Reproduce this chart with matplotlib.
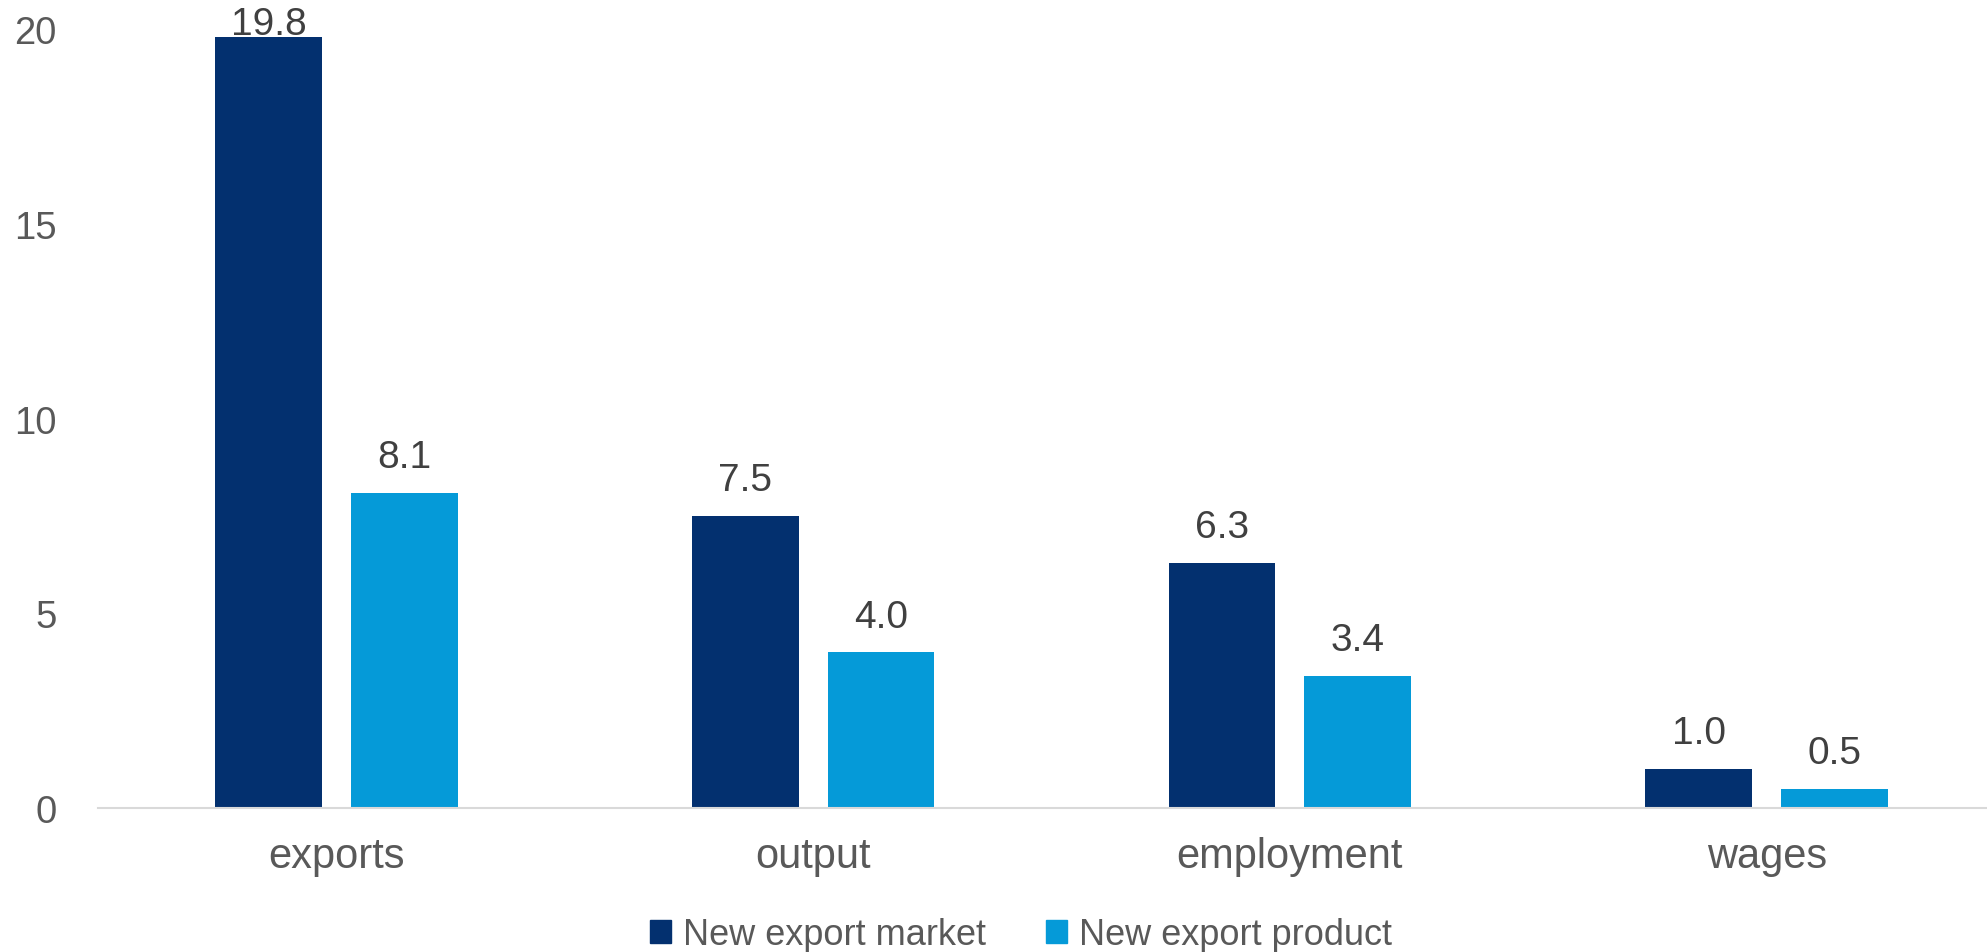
import matplotlib
matplotlib.use("Agg")
import matplotlib.pyplot as plt
from matplotlib.patches import Patch
import numpy as np

plt.rcParams["font.family"] = ["Liberation Sans", "DejaVu Sans"]

# Datos
categorias = ["exports", "output", "employment", "wages"]
nuevo_mercado = [19.8, 7.5, 6.3, 1.0]
nuevo_producto = [8.1, 4.0, 3.4, 0.5]
series = ["New export market", "New export product"]

COLORS = {"market": "#03306F", "product": "#059AD8"}

fig = plt.figure(figsize=(19.87, 9.53), dpi=100)
ax = fig.add_axes([0.0493, 0.151, 0.9507, 0.8175])

x = np.arange(len(categorias))
w = 0.224
gap = 0.061
b1 = ax.bar(x - (w + gap) / 2, nuevo_mercado, w, color=COLORS["market"])
b2 = ax.bar(x + (w + gap) / 2, nuevo_producto, w, color=COLORS["product"])

ymax = 20
for bars in [b1, b2]:
    for bar in bars:
        h = bar.get_height()
        off = 2 if h > 0.95 * ymax else 18.5
        ax.annotate(f"{h:.1f}", (bar.get_x() + bar.get_width() / 2, h),
                    xytext=(0, off), textcoords="offset points",
                    ha="center", va="baseline", fontsize=28, color="#404040",
                    annotation_clip=False)

ax.set_xlim(-0.5, 3.462)
ax.set_ylim(0, ymax)
ax.set_yticks([0, 5, 10, 15, 20])
ax.set_xticks(x)
ax.set_xticklabels(categorias)
ax.tick_params(axis="y", length=0, pad=29.5, labelsize=27.5, labelcolor="#595959")
ax.tick_params(axis="x", length=0, pad=20, labelsize=30, labelcolor="#595959")
for s in ["top", "right", "left"]:
    ax.spines[s].set_visible(False)
ax.spines["bottom"].set_color("#D9D9D9")
ax.spines["bottom"].set_linewidth(1.5)

handles = [Patch(color=COLORS["market"]), Patch(color=COLORS["product"])]
fig.legend(handles, series, loc="center", bbox_to_anchor=(0.514, 0.018),
           ncol=2, frameon=False, fontsize=26, handlelength=0.58,
           handleheight=0.58, handletextpad=0.33, columnspacing=1.67,
           labelcolor="#595959", borderaxespad=0, borderpad=0)

plt.savefig("out.png", dpi=100)
plt.close()
